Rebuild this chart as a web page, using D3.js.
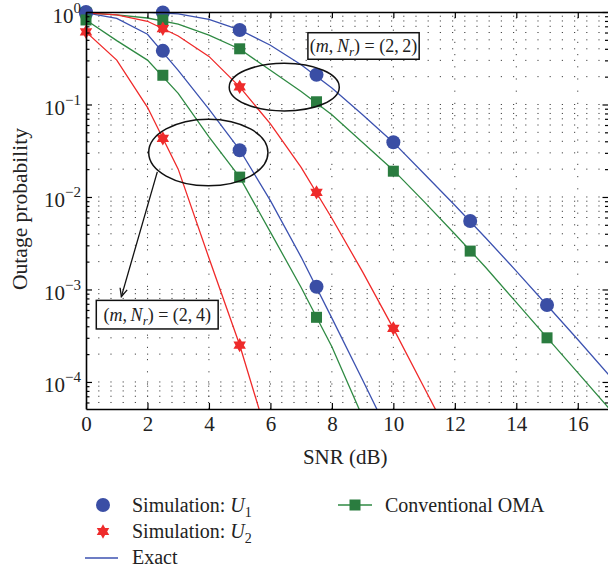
<!DOCTYPE html>
<html><head><meta charset="utf-8">
<script src="https://cdn.jsdelivr.net/npm/d3@7"></script>
<style>body{margin:0;background:#fff;} svg{display:block;font-family:"Liberation Serif","Times New Roman",serif;}</style>
</head><body><svg id="chart" width="608" height="574"></svg>
<script>
// ---------- data ----------
const snrExact = [0,1,2,3,4,5,6,7,8,9,10,11,12,13,14,15,16,17];
// (m, Nr) = (2, 2)
const exactU1_22 = [1.0,0.998,0.991,0.955,0.832,0.640,0.437,0.269,0.151,0.0776,0.0389,0.0178,0.00813,0.00363,0.00158,6.76e-4,2.88e-4,1.20e-4];
const exactU2_22 = [0.977,0.933,0.794,0.550,0.331,0.155,0.0617,0.0209,0.00589,0.00155,3.80e-4,8.71e-5,2.0e-5];
const omaExact_22 = [0.977,0.933,0.861,0.741,0.562,0.398,0.234,0.138,0.0776,0.0389,0.0195,0.00891,0.00398,0.00174,7.24e-4,3.02e-4,1.26e-4,5.25e-5];
// (m, Nr) = (2, 4)
const exactU1_24 = [0.977,0.851,0.575,0.234,0.0891,0.0324,0.00912,0.00224,4.90e-4,1.05e-4,2.19e-5];
const exactU2_24 = [0.608,0.302,0.0933,0.0200,0.00219,2.51e-4,2.0e-5];
const omaExact_24 = [0.820,0.490,0.302,0.132,0.0447,0.0164,0.00417,0.00105,2.40e-4,4.17e-5];

// simulation markers
const snrSim22 = [0,2.5,5,7.5,10,12.5,15];
const simU1_22 = [1.0,0.99,0.64,0.21,0.039,0.0055,6.8e-4];
const simU2_22 = [0.977,0.66,0.155,0.0112,3.8e-4];
const omaSim_22 = [0.977,0.82,0.40,0.107,0.019,0.0026,3.0e-4];
const snrSim24 = [0,2.5,5,7.5];
const simU1_24 = [0.977,0.38,0.032,1.07e-3];
const simU2_24 = [0.61,0.043,2.5e-4];
const omaSim_24 = [0.82,0.207,0.0164,5.0e-4];

const xTicks = [0,2,4,6,8,10,12,14,16];
const yTickExps = [0,-1,-2,-3,-4];
const xLabel = "SNR (dB)";
const yLabel = "Outage probability";
const legendNames = ["Simulation: ", "Simulation: ", "Exact", "Conventional OMA"];

// ---------- setup ----------
const W = 608, H = 574;
const plotL = 86, plotR = 608.5, plotT = 12, plotB = 409;
const yMin = 5.1e-5;
const col = {lineBlue:"#3c52b0", mBlue:"#3a4ea5", lineGreen:"#2f8a43", mGreen:"#2a7c3f", lineRed:"#f02a2a", mRed:"#ee2b2b"};

const svg = d3.select("#chart");
svg.append("rect").attr("width",W).attr("height",H).attr("fill","#fff");
const x = d3.scaleLinear().domain([0,17]).range([plotL,plotR]);
const y = d3.scaleLog().domain([yMin,1]).range([plotB,plotT]);

svg.append("defs").append("clipPath").attr("id","clip")
  .append("rect").attr("x",plotL).attr("y",plotT).attr("width",plotR-plotL).attr("height",plotB-plotT);

// ---------- grid ----------
const allY = [];
for (let e=-5;e<=-1;e++) for (let m=1;m<=9;m++){ const v=m*Math.pow(10,e); if (v>=yMin && v<0.999) allY.push(v); }
const majorY = yTickExps.map(e=>Math.pow(10,e));
const minorY = allY.filter(v=>!majorY.some(m=>Math.abs(m/v-1)<1e-6));
const grid = svg.append("g").attr("stroke","#444").attr("stroke-width",1).attr("stroke-dasharray","1.2 11");
grid.selectAll("line.h").data(allY).join("line").attr("class","h")
  .attr("x1",plotL).attr("x2",plotR).attr("y1",d=>y(d)).attr("y2",d=>y(d));
grid.selectAll("line.v").data(xTicks.filter(t=>t>0)).join("line").attr("class","v")
  .attr("x1",d=>x(d)).attr("x2",d=>x(d)).attr("y1",plotB).attr("y2",plotT);

// ---------- lines ----------
const lineGen = d3.line().x(d=>x(d[0])).y(d=>y(d[1]));
const zip = (xs, ys) => ys.map((v,i)=>[xs[i],v]);
const linesG = svg.append("g").attr("clip-path","url(#clip)").attr("fill","none").attr("stroke-width",1.3);
[[exactU1_22,col.lineBlue],[exactU1_24,col.lineBlue],[omaExact_22,col.lineGreen],[omaExact_24,col.lineGreen],[exactU2_22,col.lineRed],[exactU2_24,col.lineRed]]
  .forEach(([s,c])=>linesG.append("path").attr("d",lineGen(zip(snrExact,s))).attr("stroke",c));

// ---------- markers ----------
function hexagram(R){
  const r = R/Math.sqrt(3); const pts=[];
  for(let i=0;i<12;i++){ const a=(-90+i*30)*Math.PI/180; const rr = i%2===0?R:r; pts.push([rr*Math.cos(a), rr*Math.sin(a)]); }
  return "M"+pts.map(p=>p[0].toFixed(2)+","+p[1].toFixed(2)).join("L")+"Z";
}
const starPath = hexagram(7.2);
const mk = svg.append("g");
function drawScenario(xs, u1, oma, u2){
  mk.append("g").selectAll("circle").data(zip(xs,u1)).join("circle")
    .attr("cx",d=>x(d[0])).attr("cy",d=>y(d[1])).attr("r",7).attr("fill",col.mBlue);
  mk.append("g").selectAll("rect").data(zip(xs,oma)).join("rect")
    .attr("x",d=>x(d[0])-5.5).attr("y",d=>y(d[1])-5.5).attr("width",11).attr("height",11).attr("fill",col.mGreen);
  mk.append("g").selectAll("path").data(zip(xs,u2)).join("path")
    .attr("d",starPath).attr("transform",d=>`translate(${x(d[0])},${y(d[1])})`).attr("fill",col.mRed);
}
drawScenario(snrSim22, simU1_22, omaSim_22, simU2_22);
drawScenario(snrSim24, simU1_24, omaSim_24, simU2_24);

// ---------- axes ----------
function styleAxis(g, keepDomain){
  g.select(".domain").attr("stroke","#000").attr("stroke-width",1.6);
  if(!keepDomain) g.select(".domain").remove();
  g.selectAll(".tick line").attr("stroke","#000").attr("stroke-width",1.2);
}
const gL = svg.append("g").attr("transform",`translate(${plotL},0)`)
  .call(d3.axisLeft(y).tickValues(majorY).tickSizeInner(-6).tickSizeOuter(0).tickPadding(5).tickFormat(()=>""));
styleAxis(gL,true);
gL.selectAll(".tick text").each(function(d,i){
  const t = d3.select(this).attr("dy",null).attr("y",10).attr("font-size",21).attr("fill","#222")
    .attr("font-family",'"Liberation Serif",serif');
  const e = Math.round(Math.log10(d));
  t.append("tspan").text("10");
  t.append("tspan").attr("dy",-10).attr("font-size",15).text(e===0?"0":"\u2212"+(-e));
});
const gLm = svg.append("g").attr("transform",`translate(${plotL},0)`)
  .call(d3.axisLeft(y).tickValues(minorY).tickSizeInner(-3.5).tickSizeOuter(0).tickFormat(()=>""));
styleAxis(gLm,false);
const gR = svg.append("g").attr("transform",`translate(${plotR},0)`)
  .call(d3.axisRight(y).tickValues(majorY).tickSizeInner(-6).tickSizeOuter(0).tickFormat(()=>""));
styleAxis(gR,true);
const gRm = svg.append("g").attr("transform",`translate(${plotR},0)`)
  .call(d3.axisRight(y).tickValues(minorY).tickSizeInner(-3.5).tickSizeOuter(0).tickFormat(()=>""));
styleAxis(gRm,false);
const gB = svg.append("g").attr("transform",`translate(0,${plotB})`)
  .call(d3.axisBottom(x).tickValues(xTicks).tickSizeInner(-6).tickSizeOuter(0).tickPadding(7.5));
styleAxis(gB,true);
gB.selectAll(".tick text").attr("font-size",21).attr("fill","#222").attr("font-family",'"Liberation Serif",serif');
const gT = svg.append("g").attr("transform",`translate(0,${plotT})`)
  .call(d3.axisTop(x).tickValues(xTicks).tickSizeInner(-6).tickSizeOuter(0).tickFormat(()=>""));
styleAxis(gT,true);

// axis labels
svg.append("text").attr("x",(plotL+plotR)/2-2).attr("y",464).attr("text-anchor","middle")
  .attr("font-size",21).attr("fill","#222").text(xLabel);
svg.append("text").attr("transform",`translate(27,209) rotate(-90)`).attr("text-anchor","middle")
  .attr("font-size",21.5).attr("fill","#222").text(yLabel);

// ---------- annotations ----------
const ann = svg.append("g").attr("fill","none").attr("stroke","#111").attr("stroke-width",1.5);
function ellipseData(x0,x1,l0,l1){
  const cx=(x(x0)+x(x1))/2, cy=(y(Math.pow(10,l0))+y(Math.pow(10,l1)))/2;
  return {cx, cy, rx:(x(x1)-x(x0))/2, ry:Math.abs(y(Math.pow(10,l1))-y(Math.pow(10,l0)))/2};
}
[ellipseData(4.66,8.24,-0.555,-1.07), ellipseData(2.04,5.92,-1.159,-1.879)].forEach(e=>{
  ann.append("ellipse").attr("cx",e.cx).attr("cy",e.cy).attr("rx",e.rx).attr("ry",e.ry);
});
// arrow
{
  const x1=x(2.32), y1=y(Math.pow(10,-1.728)), x2=x(1.15), y2=y(Math.pow(10,-3.078));
  ann.append("line").attr("x1",x1).attr("y1",y1).attr("x2",x2).attr("y2",y2).attr("stroke-width",1.3);
  const ang=Math.atan2(y2-y1,x2-x1), L=9, spread=0.42;
  const p1=[x2-L*Math.cos(ang-spread), y2-L*Math.sin(ang-spread)];
  const p2=[x2-L*Math.cos(ang+spread), y2-L*Math.sin(ang+spread)];
  ann.append("path").attr("d",`M${p1[0]},${p1[1]}L${x2},${y2}L${p2[0]},${p2[1]}`).attr("stroke-width",1.3);
}
function labelBox(x0,x1,l0,l1,val){
  const bx=x(x0), bw=x(x1)-x(x0), by=y(Math.pow(10,l0)), bh=y(Math.pow(10,l1))-by;
  svg.append("rect").attr("x",bx).attr("y",by).attr("width",bw).attr("height",bh)
    .attr("fill","#fff").attr("stroke","#111").attr("stroke-width",1.5);
  const t = svg.append("text").attr("x",bx+bw/2).attr("y",by+bh/2+6).attr("text-anchor","middle")
    .attr("font-size",18).attr("fill","#222");
  t.append("tspan").text("(");
  t.append("tspan").attr("font-style","italic").text("m");
  t.append("tspan").text(",\u2009");
  t.append("tspan").attr("font-style","italic").text("N");
  t.append("tspan").attr("font-style","italic").attr("font-size",13).attr("dy",4).text("r");
  t.append("tspan").attr("dy",-4).text(") = (" + val + ")");
}
labelBox(7.22,10.84,-0.224,-0.511,"2,\u20092");
labelBox(0.335,4.30,-3.118,-3.427,"2,\u20094");

// ---------- legend ----------
const lg = svg.append("g").attr("font-size",20).attr("fill","#222");
function legendText(tx, ty, name, sub){
  const t = lg.append("text").attr("x",tx).attr("y",ty);
  t.append("tspan").text(name);
  if(sub){
    t.append("tspan").attr("font-style","italic").text("U");
    t.append("tspan").attr("font-size",14).attr("dy",5).text(sub);
  }
}
lg.append("circle").attr("cx",103).attr("cy",505).attr("r",7).attr("fill",col.mBlue);
legendText(132,512,legendNames[0],"1");
lg.append("path").attr("d",starPath).attr("transform","translate(103,531.5)").attr("fill",col.mRed);
legendText(132,538,legendNames[1],"2");
lg.append("line").attr("x1",85).attr("x2",118).attr("y1",558).attr("y2",558).attr("stroke",col.lineBlue).attr("stroke-width",1.3);
legendText(132,564,legendNames[2],null);
lg.append("line").attr("x1",338).attr("x2",372).attr("y1",505).attr("y2",505).attr("stroke",col.lineGreen).attr("stroke-width",1.3);
lg.append("rect").attr("x",355-5.5).attr("y",505-5.5).attr("width",11).attr("height",11).attr("fill",col.mGreen);
legendText(385,512,legendNames[3],null);
</script></body></html>
